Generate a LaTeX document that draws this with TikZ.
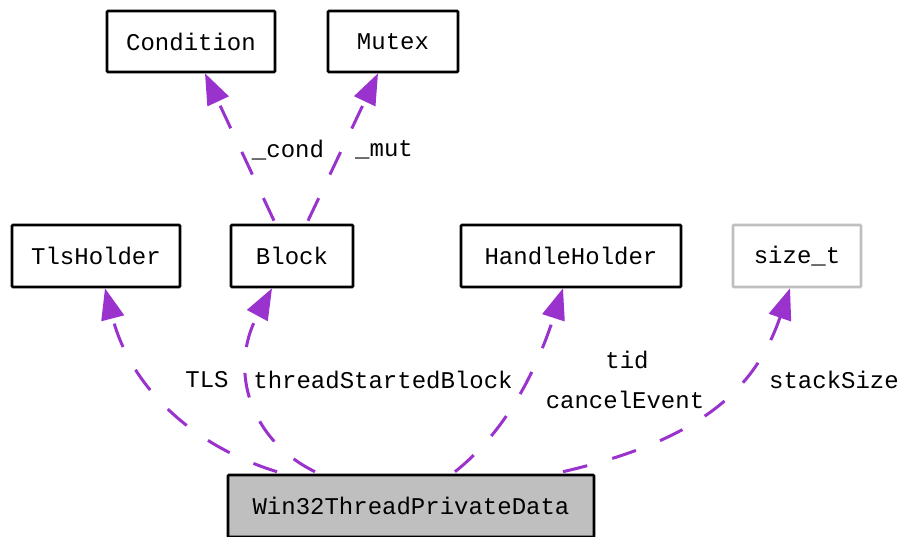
\documentclass[tikz,border=0pt]{standalone}
\usepackage{fontspec}
\setmonofont{Liberation Mono}
\usetikzlibrary{arrows.meta}
\definecolor{edgepurple}{RGB}{154,50,205}
\definecolor{boxgray}{RGB}{191,191,191}
\tikzset{
  cls/.style={draw=black, line width=2.6pt, rounded corners=1pt, inner sep=0pt, font=\ttfamily\fontsize{24}{28}\selectfont},
  ext/.style={cls, draw=boxgray},
  main/.style={cls, fill=boxgray},
  lbl/.style={inner sep=0pt, font=\ttfamily\fontsize{24}{28}\selectfont},
  rel/.style={draw=edgepurple, line width=3pt, dash pattern=on 25pt off 26pt,
    -{Triangle[length=31pt,width=23pt]}, fill=none},
}
\begin{document}
\begin{tikzpicture}[x=1pt,y=-1pt]
\useasboundingbox (0,0) rectangle (902,536);
\node[cls, minimum width=168pt, minimum height=61pt] (cond) at (191,41.5) {Condition};
\node[cls, minimum width=130pt, minimum height=61pt] (mutex) at (393,41.5) {Mutex};
\node[cls, minimum width=168pt, minimum height=62pt] (tls) at (96,256) {TlsHolder};
\node[cls, minimum width=122pt, minimum height=62pt] (block) at (292,256) {Block};
\node[cls, minimum width=220pt, minimum height=62pt] (hh) at (571,256) {HandleHolder};
\node[ext, minimum width=128pt, minimum height=62pt] (size) at (797,256) {size\_t};
\node[main, minimum width=366pt, minimum height=62pt] (w32) at (411,506) {Win32ThreadPrivateData};

\draw[rel] ([xshift=-18pt,yshift=3pt]block.north) -- ([xshift=14pt]cond.south);
\draw[rel] ([xshift=16pt,yshift=3pt]block.north) -- ([xshift=-15pt]mutex.south);

\draw[rel] ([xshift=-134pt,yshift=2pt]w32.north) .. controls (190,445) and (130,385) .. ([xshift=9pt]tls.south);
\draw[rel] ([xshift=-96pt,yshift=2pt]w32.north) .. controls (250,440) and (228,370) .. ([xshift=-20pt]block.south);
\draw[rel] ([xshift=44pt,yshift=2pt]w32.north) .. controls (495,440) and (530,390) .. ([xshift=-8pt]hh.south);
\draw[rel] ([xshift=152pt,yshift=2pt]w32.north) .. controls (700,440) and (755,390) .. ([xshift=-7pt]size.south);

\node[lbl] (lcond) at (288,150) {\_cond};
\node[lbl] (lmut) at (384,150) {\_mut};
\node[lbl] (ltls) at (207,380) {TLS};
\node[lbl] (lblock) at (383,380) {threadStartedBlock};
\node[lbl] (ltid) at (627,360) {tid};
\node[lbl] (lcancel) at (625,400) {cancelEvent};
\node[lbl] (lstack) at (834,380) {stackSize};
\end{tikzpicture}
\end{document}
